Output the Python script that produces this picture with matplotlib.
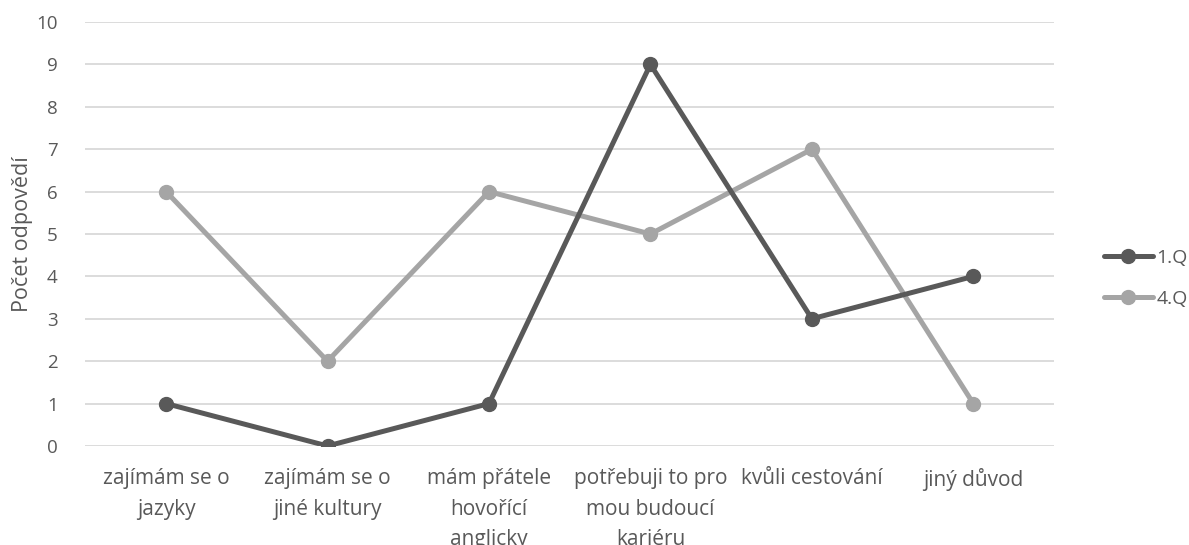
import matplotlib
matplotlib.use("Agg")
import matplotlib.pyplot as plt

plt.rcParams['font.family'] = ['Open Sans', 'DejaVu Sans']

categories = [
    "zajímám se o\njazyky",
    "zajímám se o\njiné kultury",
    "mám přátele\nhovořící\nanglicky",
    "potřebuji to pro\nmou budoucí\nkariéru",
    "kvůli cestování",
    "jiný důvod",
]
q1 = [1, 0, 1, 9, 3, 4]
q4 = [6, 2, 6, 5, 7, 1]
series_names = ["1.Q", "4.Q"]
y_ticks = list(range(0, 11))

text_color = "#595959"
dark = "#595959"
light = "#a5a5a5"
grid_color = "#d9d9d9"

fig = plt.figure(figsize=(11.89, 5.45), dpi=100)
ax = fig.add_axes([0.0718, 0.1817, 0.8147, 0.7779])

x = list(range(len(categories)))
ax.plot(x, q1, color=dark, lw=3.6, marker="o", ms=10, label=series_names[0],
        solid_joinstyle="round", solid_capstyle="round", zorder=4)
ax.plot(x, q4, color=light, lw=3.6, marker="o", ms=10, label=series_names[1],
        solid_joinstyle="round", solid_capstyle="round", zorder=3)

ax.set_xlim(-0.5, len(categories) - 0.5)
ax.set_ylim(0, 10)
ax.set_yticks(y_ticks)
ax.set_xticks(x)
ax.set_xticklabels(categories, linespacing=1.6, va="top")
ax.tick_params(axis="both", length=0, colors=text_color)
ax.tick_params(axis="x", pad=16, labelsize=15)
ax.tick_params(axis="y", pad=20, labelsize=13.5)
ax.grid(axis="y", color=grid_color, lw=1.3)
ax.set_axisbelow(True)
for s in ax.spines.values():
    s.set_visible(False)

ax.set_ylabel("Počet odpovědí", fontsize=15.5, color=text_color)
ax.yaxis.set_label_coords(-0.054, 0.5)

leg = ax.legend(loc="center left", bbox_to_anchor=(1.0517, 0.395), frameon=False,
                fontsize=14, labelcolor=text_color, handlelength=2.5,
                handletextpad=0.2, labelspacing=1.2, borderpad=0,
                borderaxespad=0)

fig.savefig("out.png", dpi=100, facecolor="white")
